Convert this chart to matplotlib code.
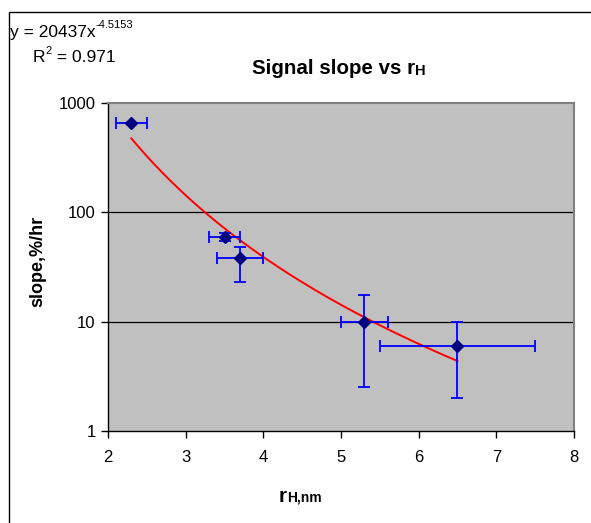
import numpy as np
import matplotlib
matplotlib.use("Agg")
import matplotlib.pyplot as plt
from matplotlib.patches import Rectangle
from matplotlib.ticker import FixedLocator, NullLocator, FixedFormatter

plt.rcParams['font.family'] = ['Liberation Sans', 'DejaVu Sans']

# data
x = [2.3, 3.5, 3.7, 5.3, 6.5]
y = [660, 60, 38, 10, 6]
xerr = [0.2, 0.2, 0.3, 0.3, 1.0]
yerr_low = [0, 5, 15, 7.5, 4]
yerr_high = [0, 5, 10.5, 7.5, 4]
fit_a = 20437
fit_b = -4.5153
r2 = 0.971
xticks = [2, 3, 4, 5, 6, 7, 8]
yticks = [1, 10, 100, 1000]
ytick_labels = ['1', '10', '100', '1000']

W, H = 591, 523
fig = plt.figure(figsize=(W / 100, H / 100), dpi=100)
fig.patch.set_facecolor('white')
renderer = fig.canvas.get_renderer()


def px(xp, yp):
    return xp / W, 1 - yp / H


def seq_text(x0, baseline, pieces):
    """Place text pieces one after another: (text, size, weight, dy_px)."""
    cur = x0
    for s, size, weight, dy in pieces:
        t = fig.text(*px(cur, baseline - dy), s, ha='left', va='baseline',
                     fontsize=size, fontweight=weight)
        bb = t.get_window_extent(renderer)
        cur += bb.width


# outer chart border (extends past the image on right/bottom)
fig.patches.append(Rectangle((9 / W, -0.05), 1.2, 1 - 12 / H + 0.05,
                             transform=fig.transFigure, fill=False,
                             edgecolor='black', linewidth=1.0))

ax = fig.add_axes([108 / W, 1 - 431 / H, (574 - 108) / W, (431 - 103) / H])
ax.set_facecolor('#C0C0C0')
ax.set_yscale('log')
ax.set_xlim(2, 8)
ax.set_ylim(1, 1000)

for v in [10, 100]:
    ax.axhline(v, color='black', linewidth=0.9, zorder=1)

# trendline
xf = np.linspace(min(x), max(x), 200)
ax.plot(xf, fit_a * xf ** fit_b, color='#FF0000', linewidth=1.4, zorder=2)

ax.errorbar(x, y, xerr=xerr, yerr=[yerr_low, yerr_high], fmt='D',
            color='#000080', markersize=6, ecolor='#0000FF', elinewidth=1.3,
            capsize=4.5, capthick=1.3, zorder=3)

ax.xaxis.set_major_locator(FixedLocator(xticks))
ax.yaxis.set_major_locator(FixedLocator(yticks))
ax.yaxis.set_major_formatter(FixedFormatter(ytick_labels))
ax.yaxis.set_minor_locator(NullLocator())
ax.tick_params(axis='both', which='major', direction='out', length=5,
               width=1, colors='black', labelsize=12, pad=4)
ax.tick_params(axis='x', pad=9)

for s in ['top', 'right']:
    ax.spines[s].set_color('#808080')
    ax.spines[s].set_linewidth(1.5)
for s in ['left', 'bottom']:
    ax.spines[s].set_color('black')
    ax.spines[s].set_linewidth(1.0)

# title
seq_text(252, 74, [('Signal slope vs r', 14.8, 'bold', 0),
                   ('H', 10.5, 'bold', -1)])

# axis labels
fig.text(*px(38, 261), 'slope,%/hr', rotation=90, ha='center',
         va='center', fontsize=13, fontweight='bold')
seq_text(279, 502, [('r', 15, 'bold', 0), ('H,nm', 10, 'bold', 0)])

# fit equation
seq_text(10, 37, [('y = %dx' % fit_a, 12.5, 'normal', 0),
                  ('%.4f' % fit_b, 8, 'normal', 9)])
seq_text(33, 62, [('R', 12.5, 'normal', 0), ('2', 8, 'normal', 8),
                  (' = %.3f' % r2, 12.5, 'normal', 0)])

fig.savefig('out.png', dpi=100)
